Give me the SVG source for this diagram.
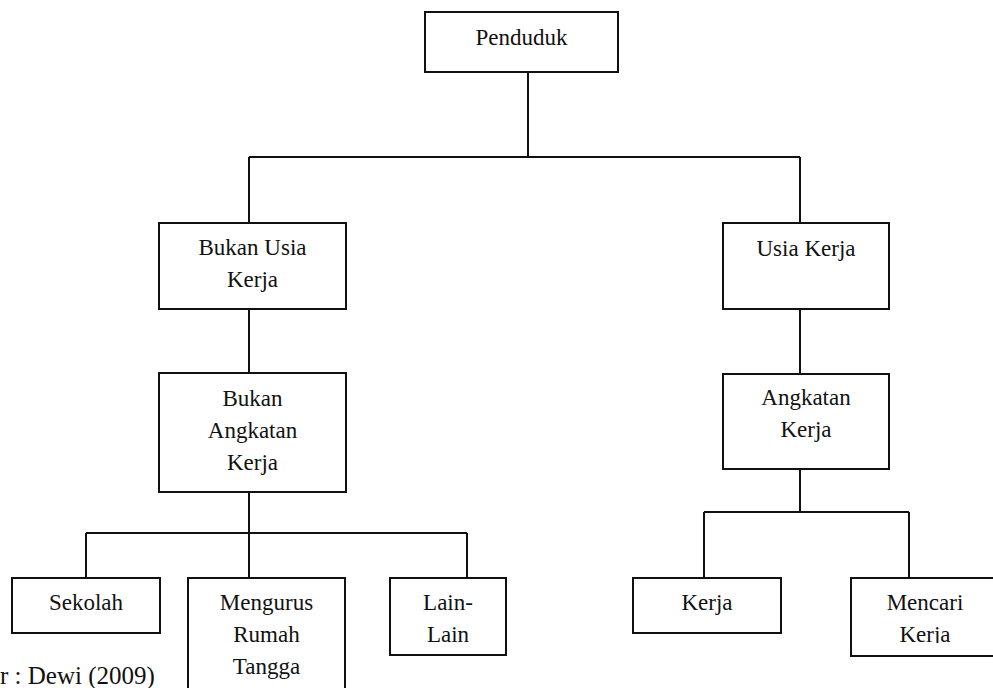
<svg xmlns="http://www.w3.org/2000/svg" width="993" height="688" viewBox="0 0 993 688">
<style>
.box{fill:#fff;stroke:#111;stroke-width:2}
.ln{fill:none;stroke:#111;stroke-width:2}
text{font-family:"Liberation Serif","Times New Roman",serif;font-size:23px;fill:#111;text-anchor:middle}
.src{text-anchor:start;font-size:25px}
</style>
<defs>
<clipPath id="clipMencari"><rect x="840" y="570" width="160" height="73"/></clipPath>
</defs>
<rect width="993" height="688" fill="#fff"/>
<g id="connectors">
<path class="ln" d="M528,72V157M249,157H800M249,157V223M800,157V223"/>
<path class="ln" d="M249,309V373M249,492V533M86,533H467M86,533V578M249,533V578M467,533V578"/>
<path class="ln" d="M800,309V374M800,469V512M704,512H909M704,512V578M909,512V578"/>
</g>
<g id="penduduk"><rect class="box" x="425" y="12" width="193" height="60"/><text x="521.5" y="45">Penduduk</text></g>
<g id="bukan-usia-kerja"><rect class="box" x="159" y="223" width="187" height="86"/><text x="252.5" y="255">Bukan Usia</text><text x="252.5" y="287">Kerja</text></g>
<g id="bukan-angkatan-kerja"><rect class="box" x="159" y="373" width="187" height="119"/><text x="252.5" y="406">Bukan</text><text x="252.5" y="438">Angkatan</text><text x="252.5" y="470">Kerja</text></g>
<g id="usia-kerja"><rect class="box" x="723" y="223" width="166" height="86"/><text x="806" y="256">Usia Kerja</text></g>
<g id="angkatan-kerja"><rect class="box" x="723" y="374" width="166" height="95"/><text x="806" y="405">Angkatan</text><text x="806" y="437">Kerja</text></g>
<g id="sekolah"><rect class="box" x="12" y="578" width="148" height="55"/><text x="86" y="610">Sekolah</text></g>
<g id="mengurus-rumah-tangga"><rect class="box" x="188" y="578" width="157" height="130"/><text x="266.5" y="610">Mengurus</text><text x="266.5" y="642">Rumah</text><text x="266.5" y="674">Tangga</text></g>
<g id="lain-lain"><rect class="box" x="390" y="578" width="116" height="77"/><text x="448" y="610">Lain-</text><text x="448" y="642">Lain</text></g>
<g id="kerja"><rect class="box" x="633" y="578" width="148" height="55"/><text x="707" y="610">Kerja</text></g>
<g id="mencari-kerja"><rect class="box" x="851" y="578" width="160" height="78"/><g clip-path="url(#clipMencari)"><text x="925" y="610">Mencari</text><text x="925" y="642">Kerja</text></g></g>
<text class="src" x="0" y="684">r : Dewi (2009)</text>
</svg>
